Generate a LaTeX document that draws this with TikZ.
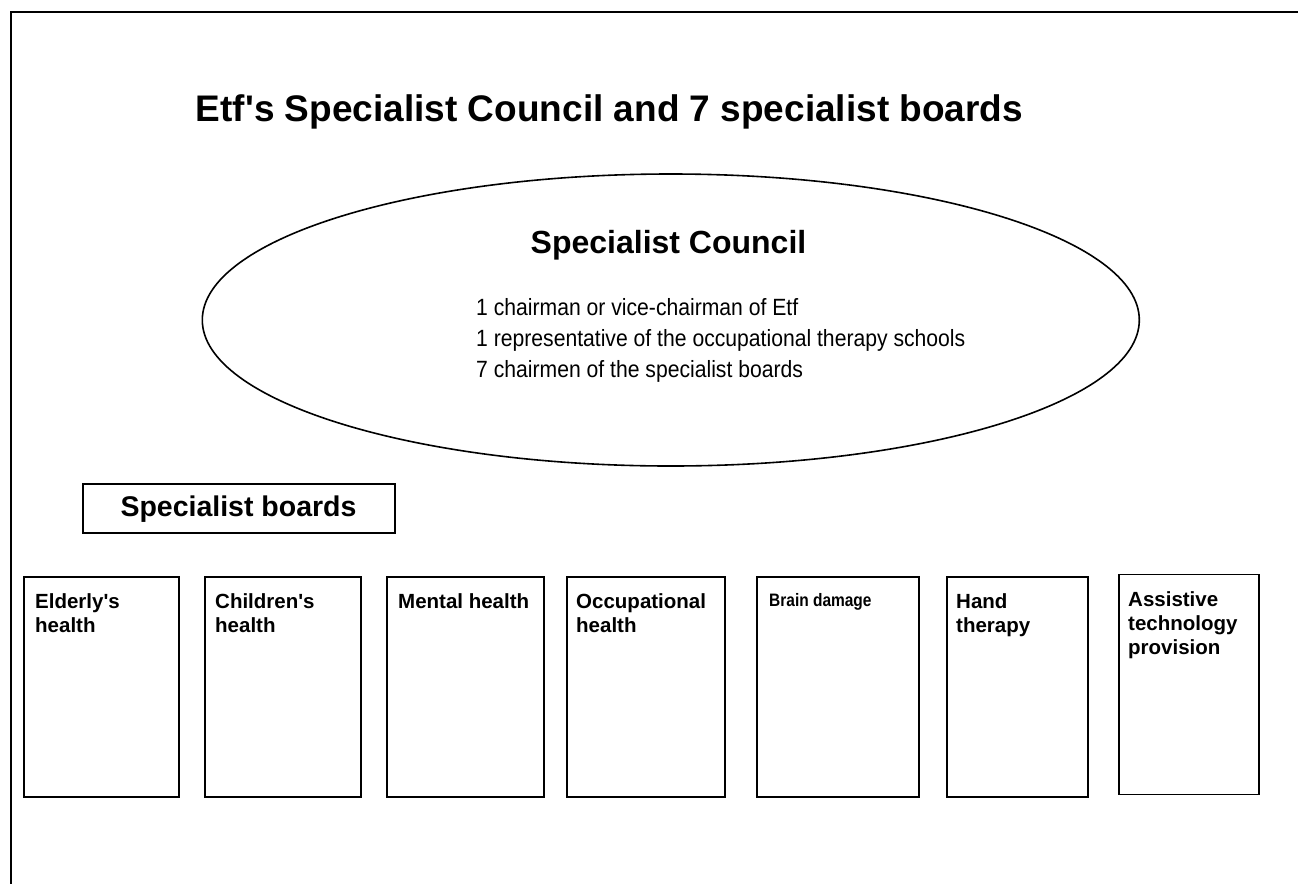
\documentclass[tikz,border=0pt]{standalone}
\usepackage{fontspec}
\setmainfont{Liberation Sans}
\newfontfamily\narrowfont[FakeStretch=0.9]{Liberation Sans}
\newfontfamily\narrowboldfont[FakeStretch=0.86]{Liberation Sans Bold}
\usetikzlibrary{shapes.geometric}
\tikzset{
  frameline/.style={line width=1.3pt},
  council/.style={draw, ellipse, line width=1.6pt, inner sep=0pt, outer sep=0pt,
    minimum width=937pt, minimum height=292pt},
  board/.style={draw, line width=1.8pt, inner sep=0pt, outer sep=0pt, minimum height=220pt},
  boardtext/.style={anchor=base west, inner sep=0pt,
    font=\fontsize{20.5}{24}\selectfont\bfseries},
  headbox/.style={draw, line width=1.8pt, inner sep=0pt, outer sep=0pt,
    minimum width=312pt, minimum height=49pt},
  titletext/.style={anchor=base, inner sep=0pt, font=\fontsize{37}{44}\selectfont\bfseries},
  counciltitle/.style={anchor=base, inner sep=0pt, font=\fontsize{32}{38}\selectfont\bfseries},
  councilbody/.style={anchor=base west, inner sep=0pt, font=\narrowfont\fontsize{23.5}{31}\selectfont},
  headtext/.style={anchor=base, inner sep=0pt, font=\fontsize{28.5}{34}\selectfont\bfseries}
}
\newcommand{\sq}{\textquotesingle}
\begin{document}
\begin{tikzpicture}[x=1pt, y=-1pt]
\useasboundingbox (0,0) rectangle (1298,884);
% outer frame (cropped at right and bottom)
\coordinate (fr) at (1298,12);
\coordinate (ftl) at (11,12);
\coordinate (fb) at (11,884);
\draw[frameline] (fr) -- (ftl) -- (fb);

% title
\node[titletext] (title) at (609.5,121) {Etf\sq s Specialist Council and 7 specialist boards};

% council ellipse
\node[council] (council) at (670.8,320) {};
\node[counciltitle] (ctitle) at (668.5,253) {Specialist Council};
\node[councilbody] (cbody) at (476,315) {\parbox[t]{600pt}{\raggedright
  1 chairman or vice-chairman of Etf\\
  1 representative of the occupational therapy schools\\
  7 chairmen of the specialist boards}};

% specialist boards heading
\node[headbox] (head) at (239,508.5) {};
\node[headtext] (headt) at (238.5,516) {Specialist boards};

% boards
\node[board, minimum width=155pt] (b1) at (101.5,687) {};
\node[board, minimum width=156pt] (b2) at (283,687) {};
\node[board, minimum width=157pt] (b3) at (465.5,687) {};
\node[board, minimum width=158pt] (b4) at (646,687) {};
\node[board, minimum width=162pt] (b5) at (838,687) {};
\node[board, minimum width=141pt] (b6) at (1017.5,687) {};
\node[board, minimum width=140pt] (b7) at (1189,684.5) {};

\node[boardtext] (t1) at (35,608) {\parbox[t]{140pt}{\raggedright Elderly\sq s\\health}};
\node[boardtext] (t2) at (215,608) {\parbox[t]{140pt}{\raggedright Children\sq s\\health}};
\node[boardtext] (t3) at (398,608) {Mental health};
\node[boardtext] (t4) at (576,608) {\parbox[t]{150pt}{\raggedright Occupational\\health}};
\node[boardtext, font=\narrowboldfont\fontsize{18}{22}\selectfont] (t5) at (769,606) {Brain damage};
\node[boardtext] (t6) at (956,608) {\parbox[t]{130pt}{\raggedright Hand\\therapy}};
\node[boardtext] (t7) at (1128,606) {\parbox[t]{130pt}{\raggedright Assistive\\technology\\provision}};
\end{tikzpicture}
\end{document}
